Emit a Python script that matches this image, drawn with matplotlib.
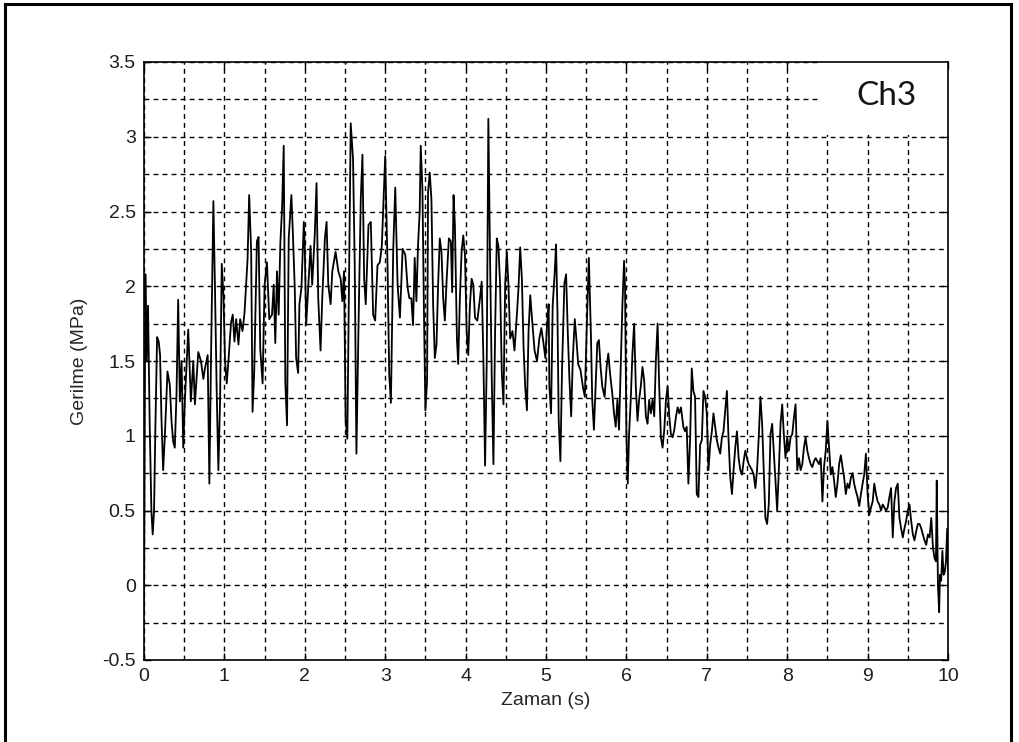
import matplotlib
matplotlib.use("Agg")
import matplotlib.pyplot as plt
from matplotlib.lines import Line2D
from matplotlib.patches import Rectangle
from matplotlib.ticker import MultipleLocator

# Stress record of channel 3 (time in s, stress in MPa)
time_s = [
    0.000, 0.017, 0.033, 0.050, 0.071, 0.092, 0.108, 0.125, 0.142, 0.163,
    0.183, 0.200, 0.217, 0.238, 0.258, 0.292, 0.321, 0.342, 0.363, 0.383,
    0.404, 0.425, 0.446, 0.467, 0.488, 0.508, 0.550, 0.583, 0.613, 0.633,
    0.675, 0.708, 0.738, 0.758, 0.792, 0.813, 0.833, 0.863, 0.883, 0.904,
    0.925, 0.946, 0.967, 0.988, 1.008, 1.029, 1.050, 1.083, 1.104, 1.125,
    1.146, 1.175, 1.196, 1.225, 1.250, 1.267, 1.288, 1.308, 1.333, 1.350,
    1.371, 1.404, 1.425, 1.446, 1.475, 1.500, 1.529, 1.558, 1.592, 1.613,
    1.633,
    1.654, 1.675, 1.696, 1.717, 1.738, 1.758, 1.779, 1.800, 1.833, 1.850,
    1.875, 1.892, 1.917, 1.933, 1.958, 1.988, 2.000, 2.017, 2.042, 2.071,
    2.092, 2.125, 2.146, 2.167, 2.196, 2.217, 2.250, 2.271, 2.292, 2.321,
    2.342, 2.383, 2.417, 2.446, 2.467, 2.488, 2.508, 2.529, 2.550, 2.571,
    2.600, 2.621, 2.642, 2.667, 2.696, 2.717, 2.738, 2.758, 2.792, 2.821,
    2.850, 2.875, 2.904, 2.933, 2.958, 2.975, 3.000, 3.029, 3.050, 3.071,
    3.100, 3.125, 3.154, 3.183, 3.217, 3.250, 3.279, 3.300,
    3.325, 3.346, 3.367, 3.388, 3.408, 3.429, 3.442, 3.463, 3.483, 3.500,
    3.521, 3.533, 3.554, 3.575, 3.596, 3.617, 3.638, 3.658, 3.679, 3.700,
    3.721, 3.742, 3.763, 3.792, 3.817, 3.833, 3.850, 3.867, 3.892, 3.908,
    3.929, 3.950, 3.971, 3.992, 4.013, 4.033, 4.054, 4.075, 4.096, 4.117,
    4.146, 4.179, 4.200, 4.221, 4.242, 4.263, 4.283, 4.304, 4.325, 4.346,
    4.367, 4.388, 4.408, 4.429, 4.450, 4.471, 4.492, 4.513, 4.533, 4.554,
    4.583, 4.608, 4.638, 4.658, 4.679, 4.700, 4.721, 4.742, 4.763, 4.783,
    4.804, 4.825, 4.858, 4.888, 4.917, 4.942, 4.971, 4.992, 5.013, 5.033,
    5.042, 5.063, 5.083, 5.108, 5.125, 5.142, 5.158, 5.179, 5.200, 5.229,
    5.250, 5.271, 5.292, 5.313, 5.333, 5.358, 5.379, 5.400, 5.429, 5.458,
    5.483, 5.508, 5.533, 5.558, 5.575, 5.596, 5.617, 5.638, 5.658, 5.679,
    5.700, 5.729, 5.754, 5.775, 5.796, 5.825, 5.846, 5.867, 5.888, 5.908,
    5.929, 5.950, 5.971, 5.983, 6.000, 6.017, 6.033, 6.054, 6.075, 6.096,
    6.117, 6.138, 6.158, 6.179, 6.200, 6.221, 6.242, 6.263, 6.283, 6.304,
    6.325, 6.346, 6.367, 6.388, 6.408, 6.429, 6.450, 6.471, 6.492, 6.513,
    6.533, 6.554, 6.575, 6.596, 6.617, 6.638, 6.658, 6.679,
    6.708, 6.729, 6.750, 6.771, 6.792, 6.813, 6.833, 6.854, 6.875, 6.896,
    6.917, 6.938, 6.958, 6.979, 7.000, 7.021, 7.042, 7.063, 7.083, 7.104,
    7.125, 7.146, 7.167, 7.188, 7.208, 7.229, 7.250, 7.271, 7.292, 7.313,
    7.333, 7.354, 7.375, 7.396, 7.417, 7.438, 7.458, 7.479, 7.500, 7.521,
    7.542, 7.563, 7.583, 7.604, 7.625, 7.646, 7.667, 7.688, 7.708, 7.729,
    7.750, 7.771, 7.792, 7.813, 7.833, 7.854, 7.875, 7.896, 7.917, 7.938,
    7.958, 7.979, 8.000, 8.021, 8.042, 8.063, 8.083, 8.104, 8.125, 8.146,
    8.167, 8.188, 8.208, 8.229, 8.250, 8.271, 8.292, 8.313, 8.333, 8.354,
    8.375, 8.396, 8.417, 8.438, 8.458, 8.479, 8.500, 8.521, 8.542, 8.563,
    8.583, 8.604, 8.625, 8.646, 8.667, 8.688, 8.708, 8.729, 8.750, 8.771,
    8.792, 8.813, 8.833, 8.854, 8.875, 8.896, 8.917, 8.938, 8.958, 8.979,
    9.000, 9.021, 9.042, 9.063, 9.083, 9.104, 9.125, 9.146, 9.167, 9.188,
    9.208, 9.229, 9.250, 9.271, 9.292, 9.313, 9.333, 9.354, 9.375, 9.396,
    9.417, 9.438, 9.458, 9.479, 9.500, 9.521, 9.542, 9.563, 9.583, 9.604,
    9.625, 9.646, 9.667, 9.688, 9.708, 9.729, 9.750, 9.771, 9.792, 9.813,
    9.833, 9.850, 9.860, 9.875, 9.890, 9.900, 9.915, 9.930, 9.945, 9.960,
    9.975, 9.990, 10.000,
]

stress_mpa = [
    -0.17, 2.08, 1.50, 1.87, 1.07, 0.50, 0.34, 0.50, 1.07, 1.66,
    1.63, 1.54, 1.12, 0.77, 0.98, 1.43, 1.34, 1.10, 0.96, 0.92,
    1.27, 1.91, 1.23, 1.50, 0.92, 1.23, 1.71, 1.23, 1.50, 1.21,
    1.56, 1.50, 1.38, 1.45, 1.54, 0.68, 1.50, 2.57, 1.98, 1.30,
    0.77, 1.23, 2.15, 1.94, 1.50, 1.35, 1.50, 1.76, 1.81, 1.63,
    1.78, 1.61, 1.78, 1.70, 1.82, 1.98, 2.18, 2.61, 2.23, 1.16,
    1.43, 2.30, 2.33, 1.58, 1.35, 2.01, 2.16, 1.78, 1.81, 2.01,
    1.62,
    2.10, 1.81, 2.29, 2.52, 2.94, 1.35, 1.07, 2.32, 2.61, 2.38,
    1.99, 1.52, 1.42, 1.88, 1.99, 2.43, 2.25, 1.74, 1.99, 2.27,
    2.01, 2.36, 2.69, 1.92, 1.57, 1.92, 2.32, 2.43, 2.01, 1.88,
    2.10, 2.23, 2.10, 2.05, 1.90, 2.10, 1.10, 0.98, 2.01, 3.09,
    2.85, 2.14, 0.88, 1.70, 2.58, 2.88, 2.05, 1.88, 2.41, 2.43,
    1.81, 1.77, 2.14, 2.16, 2.27, 2.52, 2.87, 2.14, 1.41, 1.22,
    2.25, 2.66, 2.01, 1.79, 2.25, 2.21, 1.99, 1.92,
    1.92, 1.74, 2.19, 1.90, 2.27, 2.50, 2.94, 2.65, 1.79, 1.17,
    1.37, 2.63, 2.76, 2.58, 1.88, 1.52, 1.61, 2.01, 2.32, 2.23,
    1.92, 1.77, 2.03, 2.32, 2.30, 1.96, 2.61, 2.41, 1.65, 1.48,
    1.92, 2.23, 2.34, 2.21, 1.70, 1.54, 1.88, 2.05, 2.01, 1.79,
    1.77, 1.92, 2.03, 1.52, 0.80, 1.50, 3.12, 2.19, 1.39, 0.81,
    1.70, 2.32, 2.27, 2.01, 1.43, 1.21, 2.01, 2.23, 2.01, 1.65,
    1.70, 1.57, 1.81, 1.99, 2.26, 2.05, 1.59, 1.32, 1.17, 1.70,
    1.94, 1.79, 1.57, 1.50, 1.65, 1.72, 1.61, 1.52, 1.74, 1.88,
    1.33, 1.15, 1.87, 2.09, 2.28, 1.84, 1.10, 0.83, 1.46, 2.02,
    2.08, 1.69, 1.37, 1.13, 1.51, 1.78, 1.64, 1.48, 1.44, 1.33,
    1.26, 1.75, 2.19, 1.69, 1.24, 1.04, 1.33, 1.62, 1.64, 1.46,
    1.33, 1.26, 1.46, 1.55, 1.42, 1.28, 1.15, 1.06, 1.24, 1.04,
    1.46, 1.87, 2.17, 2.00, 1.01, 0.68, 1.01, 1.24, 1.55, 1.75,
    1.33, 1.10, 1.24, 1.33, 1.46, 1.37, 1.13, 1.08, 1.24, 1.15,
    1.24, 1.13, 1.51, 1.75, 1.33, 0.99, 0.92, 1.04, 1.24, 1.33,
    1.13, 1.01, 0.99, 1.04, 1.13, 1.19, 1.15, 1.19,
    1.06, 1.03, 1.06, 0.68, 0.97, 1.45, 1.30, 1.26, 0.61, 0.59,
    0.94, 0.97, 1.30, 1.26, 1.15, 0.77, 0.94, 1.03, 1.15, 1.06,
    0.97, 0.92, 0.88, 0.99, 1.03, 1.17, 1.30, 0.97, 0.72, 0.61,
    0.77, 0.92, 1.03, 0.85, 0.77, 0.74, 0.83, 0.90, 0.85, 0.81,
    0.79, 0.77, 0.74, 0.65, 0.77, 0.99, 1.26, 1.08, 0.77, 0.45,
    0.41, 0.54, 1.01, 1.08, 0.90, 0.70, 0.50, 0.77, 1.08, 1.21,
    1.01, 0.85, 0.99, 0.90, 0.99, 1.01, 1.12, 1.21, 0.77, 0.85,
    0.77, 0.81, 0.92, 0.99, 0.90, 0.85, 0.81, 0.79, 0.83, 0.85,
    0.83, 0.81, 0.85, 0.56, 0.79, 0.90, 1.10, 0.92, 0.74, 0.79,
    0.70, 0.59, 0.68, 0.81, 0.87, 0.79, 0.72, 0.61, 0.68, 0.65,
    0.72, 0.75, 0.68, 0.63, 0.59, 0.53, 0.61, 0.68, 0.74, 0.88,
    0.61, 0.47, 0.52, 0.56, 0.68, 0.61, 0.56, 0.54, 0.50, 0.54,
    0.52, 0.50, 0.52, 0.59, 0.65, 0.32, 0.56, 0.65, 0.68, 0.45,
    0.38, 0.32, 0.38, 0.43, 0.50, 0.54, 0.43, 0.34, 0.30, 0.36,
    0.41, 0.41, 0.38, 0.34, 0.30, 0.27, 0.34, 0.32, 0.45, 0.25,
    0.18, 0.16, 0.70, 0.00, -0.18, 0.07, 0.03, 0.23, 0.07, 0.09,
    0.16, 0.38, 0.10,
]

x_ticks = [0, 1, 2, 3, 4, 5, 6, 7, 8, 9, 10]
y_ticks = [-0.5, 0, 0.5, 1, 1.5, 2, 2.5, 3, 3.5]
y_tick_labels = ["-0.5", "0", "0.5", "1", "1.5", "2", "2.5", "3", "3.5"]
x_label = "Zaman (s)"
y_label = "Gerilme (MPa)"
channel_name = "Ch3"

assert len(time_s) == len(stress_mpa)

label_font = ["Liberation Sans Narrow", "Liberation Sans", "DejaVu Sans"]

fig = plt.figure(figsize=(10.2, 7.42), dpi=100)
ax = fig.add_axes([144 / 1020, 1 - 660 / 742, 804 / 1020, 598 / 742])

ax.plot(time_s, stress_mpa, color="black", linewidth=1.3, zorder=3)

ax.set_xlim(0, 10)
ax.set_ylim(-0.5, 3.5)
ax.set_xticks(x_ticks)
ax.set_xticklabels([str(t) for t in x_ticks])
ax.set_yticks(y_ticks)
ax.set_yticklabels(y_tick_labels)
ax.xaxis.set_minor_locator(MultipleLocator(0.5))
ax.yaxis.set_minor_locator(MultipleLocator(0.25))

ax.grid(True, which="both", color="black", linestyle=(0, (3.5, 3.0)), linewidth=1.0)
ax.tick_params(which="major", direction="in", top=True, right=True,
               length=5, width=1, labelsize=14, pad=6, colors="black",
               labelcolor="#1e1e1e")
ax.tick_params(which="minor", length=0)
for lbl in ax.get_xticklabels() + ax.get_yticklabels():
    lbl.set_family(label_font)
for spine in ax.spines.values():
    spine.set_linewidth(1.2)

ax.set_xlabel(x_label, fontsize=14, family=label_font, color="#262626", labelpad=5)
ax.set_ylabel(y_label, fontsize=14, family=label_font, color="#262626", labelpad=10)

# channel tag on a white panel over the grid
ax.add_patch(Rectangle((8.4, 3.01), 1.6, 0.49, facecolor="white",
                       edgecolor="none", zorder=2))
ax.text(9.23, 3.27, channel_name, ha="center", va="center", fontsize=24,
        family=["Lato", "DejaVu Sans"], color="#141414", zorder=4)

# outer frame on top, left and right
frame_kw = dict(color="black", linewidth=2.2, transform=fig.transFigure)
fig.add_artist(Line2D([5 / 1020, 1011 / 1020], [1 - 4 / 742, 1 - 4 / 742], **frame_kw))
fig.add_artist(Line2D([5 / 1020, 5 / 1020], [0, 1 - 4 / 742], **frame_kw))
fig.add_artist(Line2D([1011 / 1020, 1011 / 1020], [0, 1 - 4 / 742], **frame_kw))

fig.savefig("out.png", dpi=100, facecolor="white")
